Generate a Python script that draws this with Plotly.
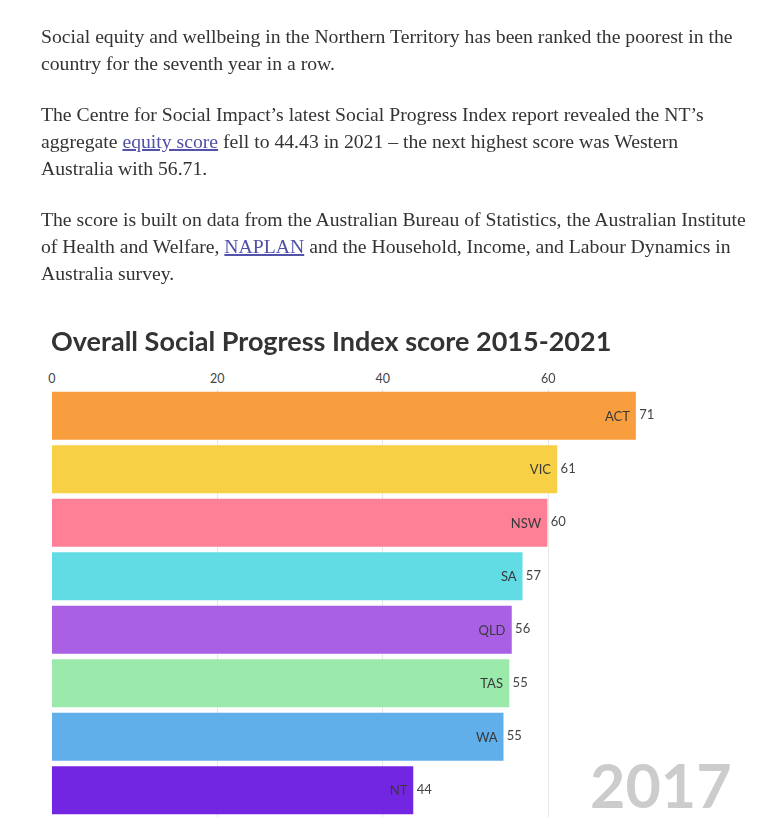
import plotly.graph_objects as go

# article text, one entry per rendered line
para_lines = [
    "Social equity and wellbeing in the Northern Territory has been ranked the poorest in the",
    "country for the seventh year in a row.",
    "The Centre for Social Impact\u2019s latest Social Progress Index report revealed the NT\u2019s",
    "aggregate <LINK>equity score</LINK> fell to 44.43 in 2021 \u2013 the next highest score was Western",
    "Australia with 56.71.",
    "The score is built on data from the Australian Bureau of Statistics, the Australian Institute",
    "of Health and Welfare, <LINK>NAPLAN</LINK> and the Household, Income, and Labour Dynamics in",
    "Australia survey.",
]
line_y = [36, 63, 114, 141, 168, 219, 246, 273]

# chart data (year 2017 frame)
states = ["ACT", "VIC", "NSW", "SA", "QLD", "TAS", "WA", "NT"]
scores = [70.6, 61.1, 59.9, 56.9, 55.6, 55.3, 54.6, 43.7]
colors = ["#f99b38", "#f8cf3f", "#fd7c93", "#5cdae4", "#a85be5", "#98eaa9", "#5badeb", "#6f1fe0"]
year = "2017"
title = "Overall Social Progress Index score 2015-2021"

W, H = 761, 832
# the page body adds a margin around the figure, so pull everything back
OFF_X, OFF_Y = 11, 8

def px(x):
    return (x - OFF_X) / W

def py(y):
    return 1 - (y - OFF_Y) / H

link_open = '<span style="text-decoration:underline;color:#5050a8">'
ann = []
for txt, y in zip(para_lines, line_y):
    txt = txt.replace("<LINK>", link_open).replace("</LINK>", "</span>")
    ann.append(dict(text=txt, x=px(38), y=py(y), xref="paper", yref="paper",
                    xanchor="left", yanchor="middle", showarrow=False,
                    font=dict(family="Liberation Serif", size=19.7, color="#333333")))

ann.append(dict(text="<b>" + title + "</b>", x=px(48), y=py(340), xref="paper", yref="paper",
                xanchor="left", yanchor="middle", showarrow=False,
                font=dict(family="Lato", size=27, color="#333333")))

ann.append(dict(text="<b>" + year + "</b>", x=px(737), y=py(784), xref="paper", yref="paper",
                xanchor="right", yanchor="middle", showarrow=False,
                font=dict(family="Lato", size=61, color="#cccccc")))

fig = go.Figure()
fig.add_trace(go.Bar(
    x=scores, y=states, orientation="h",
    marker=dict(color=colors, line=dict(width=0)), opacity=0.97,
    text=[s + "\u00a0" for s in states], textposition="inside", insidetextanchor="end",
    insidetextfont=dict(family="Lato", size=13, color="#333333"),
    textangle=0, constraintext="none", hoverinfo="skip",
))
fig.add_trace(go.Scatter(
    x=scores, y=states, mode="text",
    text=["\u00a0" + f"{v:.0f}" for v in scores], textposition="middle right",
    textfont=dict(family="Lato", size=13, color="#444444"), hoverinfo="skip",
))

px_per_unit = (550 - 51) / 60
x_left, x_right = 51, 745
fig.update_layout(
    width=W, height=H,
    margin=dict(l=0, r=0, t=0, b=0),
    paper_bgcolor="white", plot_bgcolor="white",
    showlegend=False, bargap=0.1,
    annotations=ann,
    xaxis=dict(domain=[px(x_left), px(x_right)],
               range=[0, (x_right - x_left) / px_per_unit],
               side="top", tickvals=[0, 20, 40, 60], ticklabelstandoff=3,
               showgrid=True, gridcolor="#e6e6e6", gridwidth=1,
               zeroline=False, showline=False, ticks="",
               tickfont=dict(family="Lato", size=12.5, color="#444444")),
    yaxis=dict(domain=[py(817), py(389)], autorange="reversed",
               showticklabels=False, showgrid=False, zeroline=False,
               categoryorder="array", categoryarray=states),
)

fig.write_html("out.html", config={"displayModeBar": False})
